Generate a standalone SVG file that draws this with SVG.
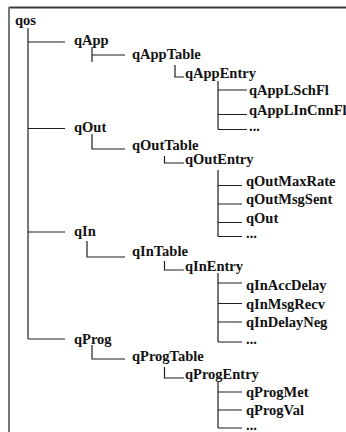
<svg xmlns="http://www.w3.org/2000/svg" width="346" height="432" viewBox="0 0 346 432">
  <style>
    .bg { fill: #ffffff; }
    .frame-top { stroke: #3a3a3a; stroke-width: 2; fill: none; }
    .frame-left { stroke: #777777; stroke-width: 2; fill: none; }
    .edge { stroke: #1e1e1e; stroke-width: 1.2; fill: none; }
    .label { font-family: "Liberation Serif", "Times New Roman", serif; font-weight: bold; font-size: 14.5px; fill: #111111; }
  </style>

  <rect class="bg" x="0" y="0" width="346" height="432"/>

  <!-- page frame: top and left rules only -->
  <line class="frame-top" x1="9" y1="7.5" x2="346" y2="7.5"/>
  <line class="frame-left" x1="9" y1="7" x2="9" y2="432"/>

  <!-- tree connectors -->
  <g id="connectors">
    <!-- root trunk and first-level branches -->
    <path class="edge" d="M28 28 V339 M28 42 H65 M28 128.5 H65 M28 232 H65 M28 339 H65"/>
    <!-- group to table -->
    <path class="edge" d="M92 47 V62 M92 55 H125"/>
    <path class="edge" d="M92 134 V149 H125"/>
    <path class="edge" d="M87 241 V257 H125"/>
    <path class="edge" d="M92 345 V359 H125"/>
    <!-- table to entry -->
    <path class="edge" d="M175 65 V77 H184"/>
    <path class="edge" d="M164.5 156 V163 H184"/>
    <path class="edge" d="M164.5 261 V270 H184"/>
    <path class="edge" d="M164.5 367 V378 H184"/>
    <!-- entry to columns -->
    <path class="edge" d="M218 81 V129.5 M218 90 H247 M218 114.5 H247 M218 129.5 H247"/>
    <path class="edge" d="M218 170 V236.5 M218 185.5 H242 M218 204 H242 M218 222.5 H242 M218 236.5 H242"/>
    <path class="edge" d="M218 273 V342 M218 283 H242 M218 303.5 H242 M218 322 H242 M218 342 H242"/>
    <path class="edge" d="M218 382 V428 M218 392 H242 M218 410 H242 M218 428 H242"/>
  </g>

  <g id="qos"><text class="label" x="15" y="25">qos</text></g>

  <g id="qApp"><text class="label" x="74" y="45">qApp</text></g>
  <g id="qAppTable"><text class="label" x="132" y="59">qAppTable</text></g>
  <g id="qAppEntry"><text class="label" x="185" y="78">qAppEntry</text></g>
  <g id="qAppLSchFl"><text class="label" x="249" y="95">qAppLSchFl</text></g>
  <g id="qAppLInCnnFl"><text class="label" x="249" y="115">qAppLInCnnFl</text></g>
  <g id="qAppMore"><text class="label" x="249" y="131">...</text></g>

  <g id="qOut"><text class="label" x="74" y="132">qOut</text></g>
  <g id="qOutTable"><text class="label" x="132" y="150">qOutTable</text></g>
  <g id="qOutEntry"><text class="label" x="185" y="164">qOutEntry</text></g>
  <g id="qOutMaxRate"><text class="label" x="246" y="186">qOutMaxRate</text></g>
  <g id="qOutMsgSent"><text class="label" x="246" y="204">qOutMsgSent</text></g>
  <g id="qOutCol"><text class="label" x="246" y="222.5">qOut</text></g>
  <g id="qOutMore"><text class="label" x="246" y="238">...</text></g>

  <g id="qIn"><text class="label" x="74" y="236">qIn</text></g>
  <g id="qInTable"><text class="label" x="132" y="256">qInTable</text></g>
  <g id="qInEntry"><text class="label" x="185" y="271">qInEntry</text></g>
  <g id="qInAccDelay"><text class="label" x="246" y="290">qInAccDelay</text></g>
  <g id="qInMsgRecv"><text class="label" x="246" y="309">qInMsgRecv</text></g>
  <g id="qInDelayNeg"><text class="label" x="246" y="327">qInDelayNeg</text></g>
  <g id="qInMore"><text class="label" x="246" y="343.5">...</text></g>

  <g id="qProg"><text class="label" x="74" y="344">qProg</text></g>
  <g id="qProgTable"><text class="label" x="132" y="361">qProgTable</text></g>
  <g id="qProgEntry"><text class="label" x="185" y="379">qProgEntry</text></g>
  <g id="qProgMet"><text class="label" x="246" y="397">qProgMet</text></g>
  <g id="qProgVal"><text class="label" x="246" y="415">qProgVal</text></g>
  <g id="qProgMore"><text class="label" x="246" y="429.5">...</text></g>
</svg>
